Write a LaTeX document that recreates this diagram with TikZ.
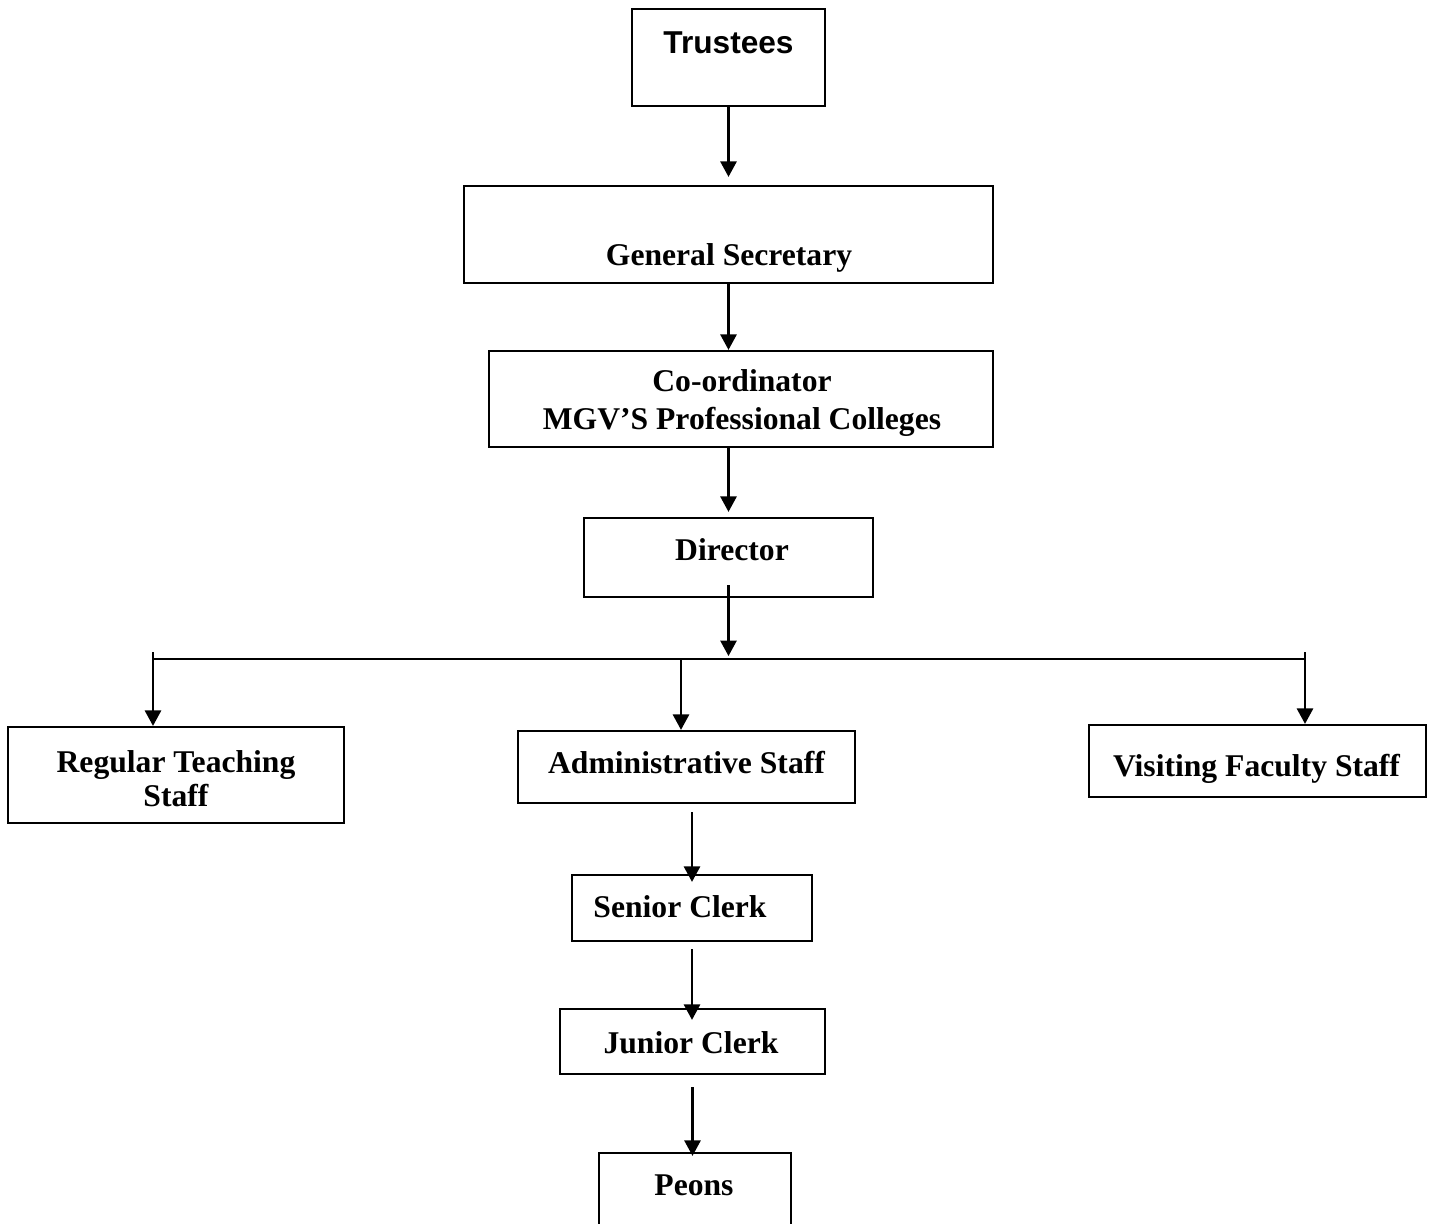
\documentclass[tikz,border=0pt]{standalone}
\usepackage{fontspec}
\setmainfont{Liberation Serif}
\setsansfont{Liberation Sans}
\usetikzlibrary{arrows.meta}

\tikzset{
  box/.style={draw, line width=0.65pt, inner sep=0pt},
  lbl/.style={anchor=base, inner sep=0pt, align=center, font=\fontsize{9}{10.8}\selectfont\bfseries},
  arr/.style={line width=0.65pt, -{Triangle[length=4.4pt,width=4.6pt]}},
}

\begin{document}
\begin{tikzpicture}
\useasboundingbox (0,0) rectangle (14.35,-12.23);

% top of the chart
\node[box, minimum width=1.93cm, minimum height=0.97cm] (tr) at (7.285,-0.575) {};
\node[lbl, font=\fontsize{9}{10.8}\selectfont\sffamily\bfseries] (trl) at (7.285,-0.53) {Trustees};

\node[box, minimum width=5.29cm, minimum height=0.97cm] (gs) at (7.285,-2.345) {};
\node[lbl] (gsl) at (7.29,-2.65) {General Secretary};

\node[box, minimum width=5.04cm, minimum height=0.96cm] (co) at (7.41,-3.99) {};
\node[lbl] (col) at (7.42,-4.29) {Co-ordinator\\MGV’S Professional Colleges};

\node[box, minimum width=2.89cm, minimum height=0.79cm] (dir) at (7.285,-5.575) {};
\node[lbl] (dirl) at (7.32,-5.60) {Director};

% staff row
\node[box, minimum width=3.36cm, minimum height=0.96cm] (rts) at (1.76,-7.75) {};
\node[lbl, font=\fontsize{9}{9.6}\selectfont\bfseries] (rtsl) at (1.76,-8.06) {Regular Teaching\\Staff};

\node[box, minimum width=3.37cm, minimum height=0.72cm] (adm) at (6.865,-7.67) {};
\node[lbl] (adml) at (6.865,-7.73) {Administrative Staff};

\node[box, minimum width=3.37cm, minimum height=0.72cm] (vfs) at (12.575,-7.61) {};
\node[lbl] (vfsl) at (12.565,-7.76) {Visiting Faculty Staff};

% clerks
\node[box, minimum width=2.40cm, minimum height=0.66cm] (sc) at (6.92,-9.08) {};
\node[lbl] (scl) at (6.80,-9.17) {Senior Clerk};

\node[box, minimum width=2.65cm, minimum height=0.65cm] (jc) at (6.925,-10.415) {};
\node[lbl] (jcl) at (6.91,-10.53) {Junior Clerk};

\node[box, minimum width=1.92cm, minimum height=1.0cm] (pe) at (6.95,-12.03) {};
\node[lbl] (pel) at (6.94,-11.95) {Peons};

% connectors
\coordinate (busL) at (1.53,-6.59);
\coordinate (busR) at (13.05,-6.59);
\coordinate (busA) at (6.81,-6.59);
\coordinate (busM) at (7.285,-6.59);

\draw[arr, shorten >=0.08cm] (tr) -- (gs);
\draw[arr] (gs.south) -- (gs.south |- co.north);
\draw[arr, shorten >=0.05cm] (co.south -| dir.north) -- (dir.north);
\draw[arr, shorten >=0.03cm] ([yshift=0.13cm]dir.south) -- (busM);
\draw[line width=0.65pt] (busL) -- (busR);
\draw[arr] ([yshift=0.07cm]busL) -- (busL |- rts.north);
\draw[arr] (busA) -- (busA |- adm.north);
\draw[arr] ([yshift=0.07cm]busR) -- (busR |- vfs.north);
\draw[arr, shorten <=0.08cm, shorten >=-0.08cm] (adm.south -| sc.north) -- (sc.north);
\draw[arr, shorten <=0.07cm, shorten >=-0.12cm] (sc.south) -- (sc.south |- jc.north);
\draw[arr, shorten <=0.12cm, shorten >=-0.04cm] (jc.south) -- (jc.south |- pe.north);

\end{tikzpicture}
\end{document}
